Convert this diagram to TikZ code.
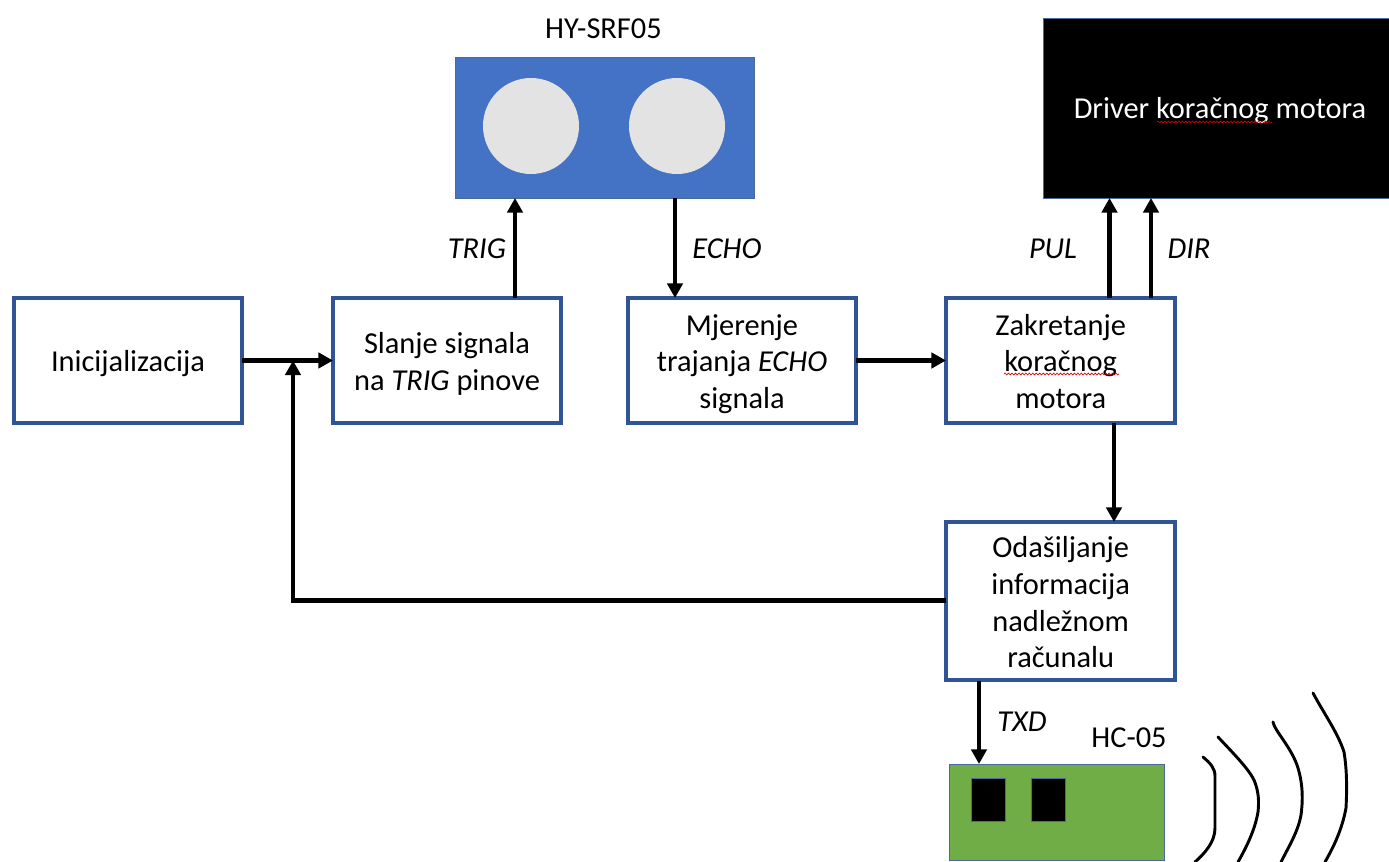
\documentclass[tikz,border=0pt]{standalone}
\usepackage{fontspec}
\setmainfont{Carlito}
\usetikzlibrary{arrows.meta,decorations.pathmorphing}
\definecolor{bordblue}{HTML}{2F5597}
\definecolor{sensblue}{HTML}{4472C4}
\definecolor{circgray}{HTML}{E3E3E3}
\definecolor{boardgreen}{HTML}{70AD47}
\definecolor{thinblue}{HTML}{4A6A9C}
\newcommand{\boxtop}{\rule{0pt}{22.5pt}}
\newcommand{\boxbot}{\rule[-5pt]{0pt}{5pt}}
\tikzset{
  x=0.75pt,y=-0.75pt,
  every node/.style={font=\fontsize{22.8}{27.6}\selectfont,text=black,inner sep=0pt,outer sep=0pt},
  blockbox/.style={draw=bordblue,line width=3.2pt,fill=white,minimum width=171pt,minimum height=93.5pt,align=center,anchor=north west},
  conn/.style={line width=3.5pt,draw=black,-{Triangle[length=11pt,width=11.5pt]}},
  wave/.style={line width=2.2pt,draw=black,line cap=round,line join=round},
  squig/.style={draw=red!85!black,line width=0.5pt,decorate,decoration={snake,amplitude=0.7pt,segment length=2.6pt}},
  lab/.style={font=\fontsize{22.8}{26}\selectfont\itshape},
  solid box/.style={draw=thinblue,line width=0.7pt}
}
\begin{document}
\begin{tikzpicture}
\useasboundingbox (0,0) rectangle (1389,862);
% blocks
\node[blockbox] (init) at (14,298) {\boxtop Inicijalizacija\boxbot};
\node[blockbox] (send) at (333,298) {\boxtop Slanje signala\\na \textit{TRIG} pinove\boxbot};
\node[blockbox] (meas) at (628,298) {\boxtop Mjerenje\\trajanja \textit{ECHO}\\signala\boxbot};
\node[blockbox,minimum width=172pt] (turn) at (946,298) {\boxtop Zakretanje\\koračnog\\motora\boxbot};
\node[blockbox,minimum width=172pt,minimum height=118.5pt] (tx) at (946,522) {\boxtop Odašiljanje\\informacija\\nadležnom\\računalu\boxbot};
% sensor
\node[solid box,fill=sensblue,minimum width=224pt,minimum height=105.75pt,anchor=north west] (srf) at (455.5,57) {};
\node[draw=none,fill=circgray,circle,minimum size=72pt] (c1) at (531,126) {};
\node[draw=none,fill=circgray,circle,minimum size=72pt] (c2) at (677,126) {};
\node[anchor=center] (srflab) at (603.5,29) {HY-SRF05};
% driver
\node[solid box,fill=black,minimum width=270pt,minimum height=135pt,anchor=north west] (drv) at (1043.5,18) {};
\node[text=white,anchor=center] (drvlab) at (1220,111) {Driver koračnog motora};
% board
\node[solid box,fill=boardgreen,minimum width=161.25pt,minimum height=72pt,anchor=north west] (hc) at (949,764) {};
\node[solid box,fill=black,minimum width=25.5pt,minimum height=32.25pt,anchor=north west] (p1) at (971.5,778) {};
\node[solid box,fill=black,minimum width=25.5pt,minimum height=32.25pt,anchor=north west] (p2) at (1031.5,778) {};
\node[anchor=center] (hclab) at (1129,738) {HC-05};
% connectors
\coordinate (j) at (293,360.5);
\coordinate (c) at (293,600.5);
\draw[conn] (init.east |- 0,360.5) -- (send.west |- 0,360.5);
\draw[conn] (tx.west |- c) -- (c) -- (j);
\draw[conn] (515,298) -- (515,198);
\draw[conn] (675,198) -- (675,298);
\draw[conn] (meas.east |- 0,360.5) -- (turn.west |- 0,360.5);
\draw[conn] (1109.5,298) -- (1109.5,198);
\draw[conn] (1151,298) -- (1151,198);
\draw[conn] (1114,423) -- (1114,522);
\draw[conn] (979,681) -- (979,764);
% labels
\node[lab] (ltrig) at (477,249) {TRIG};
\node[lab] (lecho) at (727,249) {ECHO};
\node[lab] (lpul) at (1053,249) {PUL};
\node[lab] (ldir) at (1189,249) {DIR};
\node[lab] (ltxd) at (1022,722) {TXD};
% spell-check underlines
\draw[squig] (1157,122) -- (1272,122);
\draw[squig] (1004,374) -- (1119,374);
% waves
\draw[wave] (1203,757) .. controls (1210,763) and (1215,768) .. (1215,776) -- (1215,828) .. controls (1215,842) and (1205,853) .. (1195,862);
\draw[wave] (1218,737) .. controls (1232,752) and (1248,768) .. (1254,780) .. controls (1259,792) and (1259,802) .. (1258,812) .. controls (1255,830) and (1246,848) .. (1238,862);
\draw[wave] (1273,722) .. controls (1274,730) and (1292,748) .. (1298,768) .. controls (1303,785) and (1303,800) .. (1301,815) .. controls (1298,832) and (1288,848) .. (1281,862);
\draw[wave] (1313,693) .. controls (1323,712) and (1338,733) .. (1344,752) .. controls (1347,770) and (1347,790) .. (1346,808) .. controls (1342,830) and (1333,848) .. (1325,862);
\end{tikzpicture}
\end{document}
